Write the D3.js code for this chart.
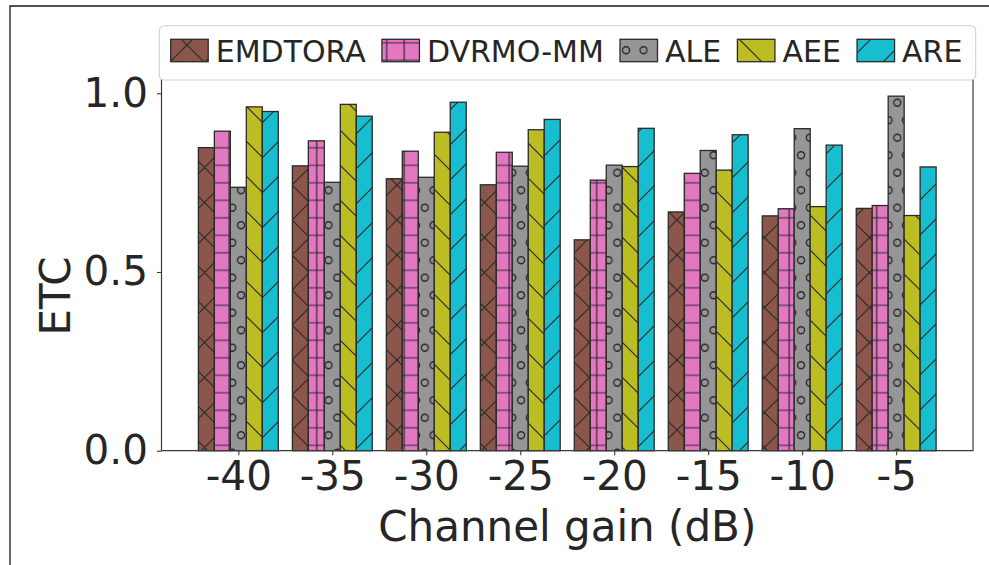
<!DOCTYPE html>
<html>
<head>
<meta charset="utf-8">
<script src="https://cdn.jsdelivr.net/npm/d3@7/dist/d3.min.js"></script>
<style>
  html, body { margin: 0; padding: 0; background: #fff; }
  svg { display: block; font-family: "DejaVu Sans", sans-serif; }
</style>
</head>
<body>
<svg id="chart" width="989" height="565"></svg>
<script>
// Channel gain settings (x categories)
const categories = ["-40", "-35", "-30", "-25", "-20", "-15", "-10", "-5"];
// Algorithms compared
const seriesNames = ["EMDTORA", "DVRMO-MM", "ALE", "AEE", "ARE"];
// ETC per algorithm, one value per channel gain
const emdtora = [0.848, 0.797, 0.761, 0.744, 0.590, 0.668, 0.657, 0.678];
const dvrmoMM = [0.894, 0.867, 0.838, 0.835, 0.757, 0.776, 0.677, 0.686];
const ale     = [0.737, 0.751, 0.765, 0.796, 0.799, 0.840, 0.901, 0.992];
const aee     = [0.962, 0.969, 0.891, 0.898, 0.795, 0.785, 0.683, 0.658];
const are     = [0.949, 0.936, 0.975, 0.927, 0.902, 0.884, 0.855, 0.794];
const seriesValues = [emdtora, dvrmoMM, ale, aee, are];
const yTicks = [0.0, 0.5, 1.0];

(function () {
const colors = ["#8c564b", "#e377c2", "#969696", "#bcbd22", "#17becf"];
const hatchIds = ["hx", "hplus", "hcirc", "hback", "hslash"];
const edge = "#2a2a2a";
const textColor = "#262626";

const svg = d3.select("#chart");

// Plot frame
const pLeft = 161.5, pRight = 973, pBottom = 450.7, pTop = 40;
const barW = 0.17;
const n = categories.length;
const half = 2.5 * barW;
const span = (n - 1) + 2 * half;
const x = d3.scaleLinear()
  .domain([-half - 0.05 * span, (n - 1) + half + 0.05 * span])
  .range([pLeft, pRight]);
const y = d3.scaleLinear().domain([0, 1]).range([pBottom, 93.3]);

// Hatch patterns, anchored to page coordinates
const defs = svg.append("defs");
const p = 17.5;
function pat(id, w, h, px, py) {
  return defs.append("pattern").attr("id", id)
    .attr("patternUnits", "userSpaceOnUse")
    .attr("width", w).attr("height", h)
    .attr("x", px).attr("y", py);
}
const hw = 1.2;
pat("hplus", p, p, 10.45, 16.55).append("path")
  .attr("d", `M0,${p/2}H${p}M${p/2},0V${p}`)
  .attr("stroke", edge).attr("stroke-width", hw).attr("fill", "none");
const d2 = 2 * p;
pat("hslash", d2, d2, 0, 0).append("path")
  .attr("d", `M0,${d2}L${d2},0M-5,5L5,-5M${d2-5},${d2+5}L${d2+5},${d2-5}`)
  .attr("stroke", edge).attr("stroke-width", hw).attr("fill", "none");
pat("hback", d2, d2, 0, 0).append("path")
  .attr("d", `M0,0L${d2},${d2}M-5,${d2-5}L5,${d2+5}M${d2-5},-5L${d2+5},5`)
  .attr("stroke", edge).attr("stroke-width", hw).attr("fill", "none");
pat("hx", d2, d2, 12, 10).append("path")
  .attr("d", `M0,${d2}L${d2},0M-5,5L5,-5M${d2-5},${d2+5}L${d2+5},${d2-5}` +
             `M0,0L${d2},${d2}M-5,${d2-5}L5,${d2+5}M${d2-5},-5L${d2+5},5`)
  .attr("stroke", edge).attr("stroke-width", hw).attr("fill", "none");
const pc = pat("hcirc", p, 2 * p, 13.55, 23.95);
[[p/2, p/2], [0, 1.5 * p], [p, 1.5 * p]].forEach(([cx, cy]) => {
  pc.append("circle").attr("cx", cx).attr("cy", cy).attr("r", 3.5)
    .attr("stroke", edge).attr("stroke-width", 1.4).attr("fill", "none");
});

// Outer figure border
svg.append("path").attr("d", "M10,565V6H989")
  .attr("stroke", "#1a1a1a").attr("stroke-width", 1.3).attr("fill", "none");

// Bars
seriesValues.forEach((vals, si) => {
  const g = svg.append("g");
  vals.forEach((v, ci) => {
    const cx = ci + (si - 2) * barW;
    const x0 = x(cx - barW / 2), x1 = x(cx + barW / 2);
    g.append("rect").attr("x", x0).attr("y", y(v))
      .attr("width", x1 - x0).attr("height", y(0) - y(v))
      .attr("fill", colors[si]);
    g.append("rect").attr("x", x0).attr("y", y(v))
      .attr("width", x1 - x0).attr("height", y(0) - y(v))
      .attr("fill", `url(#${hatchIds[si]})`)
      .attr("stroke", edge).attr("stroke-width", 1.3);
  });
});

// Spines
svg.append("path")
  .attr("d", `M${pLeft},${pTop}V${pBottom}H${pRight}V${pTop}H${pLeft}`)
  .attr("stroke", "#3a3a3a").attr("stroke-width", 1.2).attr("fill", "none");

// Y axis
const yAxis = d3.axisLeft(y).tickValues(yTicks).tickFormat(d3.format(".1f"))
  .tickSize(4.5).tickPadding(9);
const ya = svg.append("g").attr("transform", `translate(${pLeft},0)`).call(yAxis);
ya.select(".domain").remove();
ya.selectAll(".tick line").attr("stroke", "#3a3a3a").attr("stroke-width", 1.1);
ya.selectAll(".tick text").attr("font-size", 40.5).attr("fill", textColor)
  .attr("font-family", "DejaVu Sans");

// X axis
const xAxis = d3.axisBottom(x).tickValues(d3.range(n))
  .tickFormat(i => categories[i]).tickSize(4.5).tickPadding(6);
const xa = svg.append("g").attr("transform", `translate(0,${pBottom})`).call(xAxis);
xa.select(".domain").remove();
xa.selectAll(".tick line").attr("stroke", "#3a3a3a").attr("stroke-width", 1.1);
xa.selectAll(".tick text").attr("font-size", 40.5).attr("fill", textColor)
  .attr("font-family", "DejaVu Sans");

// Axis titles
svg.append("text").attr("x", (pLeft + pRight) / 2).attr("y", 541)
  .attr("text-anchor", "middle").attr("font-size", 42).attr("fill", textColor)
  .text("Channel gain (dB)");
svg.append("text")
  .attr("transform", "translate(70,296) rotate(-90)")
  .attr("text-anchor", "middle").attr("font-size", 42).attr("fill", textColor)
  .text("ETC");

// Legend
const lg = svg.append("g");
lg.append("rect").attr("x", 159.3).attr("y", 25.7)
  .attr("width", 975.7 - 159.3).attr("height", 80 - 25.7)
  .attr("rx", 5).attr("fill", "#fff").attr("stroke", "#d0d0d0").attr("stroke-width", 1.1);
let lx = 170.7;
seriesNames.forEach((name, si) => {
  lg.append("rect").attr("x", lx).attr("y", 39.3).attr("width", 37.5).attr("height", 22.4)
    .attr("fill", colors[si]);
  lg.append("rect").attr("x", lx).attr("y", 39.3).attr("width", 37.5).attr("height", 22.4)
    .attr("fill", `url(#${hatchIds[si]})`).attr("stroke", edge).attr("stroke-width", 1.3);
  const t = lg.append("text").attr("x", lx + 45).attr("y", 61.5)
    .attr("font-size", 30).attr("fill", textColor).text(name);
  lx += 45 + t.node().getComputedTextLength() + 16.2;
});
})();
</script>
</body>
</html>
